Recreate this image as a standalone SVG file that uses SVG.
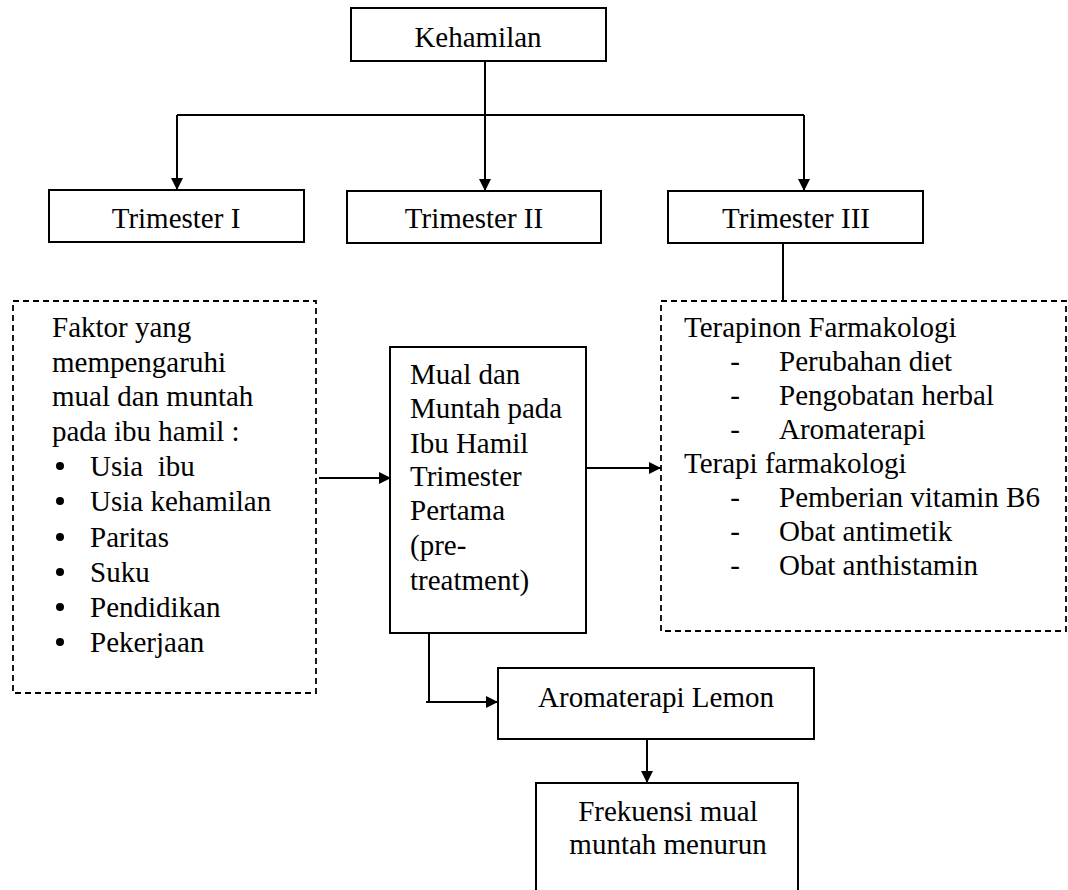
<svg xmlns="http://www.w3.org/2000/svg" width="1068" height="890" viewBox="0 0 1068 890">
<style>
text{font-family:"Liberation Serif","Times New Roman",serif;font-size:29px;fill:#000}
.c{text-anchor:middle}
.box{fill:#fff;stroke:#000;stroke-width:2}
.dash{fill:none;stroke:#000;stroke-width:1.8;stroke-dasharray:6 4}
.ln{fill:none;stroke:#000;stroke-width:2}
.ar{fill:none;stroke:#000;stroke-width:2;marker-end:url(#ah)}
</style>
<defs>
<marker id="ah" viewBox="0 0 12 12" refX="12" refY="6" markerWidth="12" markerHeight="12" markerUnits="userSpaceOnUse" orient="auto">
<path d="M0,0 L12,6 L0,12 Z" fill="#000"/>
</marker>
</defs>
<rect width="1068" height="890" fill="#fff"/>
<g id="connectors">
<path class="ln" d="M485,61 V115"/>
<path class="ln" d="M177,115 H804"/>
<path class="ar" d="M177,115 V190"/>
<path class="ar" d="M485,115 V191"/>
<path class="ar" d="M804,115 V191"/>
<path class="ln" d="M783,243 V301"/>
<path class="ar" d="M319,478 H391"/>
<path class="ar" d="M586,468 H661"/>
<path class="ln" d="M429,633 V702"/>
<path class="ar" d="M426,702 H498"/>
<path class="ar" d="M647,739 V783"/>
</g>
<g id="kehamilan">
<rect class="box" x="351" y="8" width="255" height="53"/>
<text class="c" x="478" y="47">Kehamilan</text>
</g>
<g id="trimester1">
<rect class="box" x="49" y="190" width="255" height="52"/>
<text class="c" x="176" y="228">Trimester I</text>
</g>
<g id="trimester2">
<rect class="box" x="347" y="191" width="254" height="52"/>
<text class="c" x="474" y="228">Trimester II</text>
</g>
<g id="trimester3">
<rect class="box" x="668" y="191" width="255" height="52"/>
<text class="c" x="796" y="228">Trimester III</text>
</g>
<g id="faktor">
<rect class="dash" x="13" y="301" width="303" height="392"/>
<text x="52" y="337">Faktor yang</text>
<text x="52" y="372">mempengaruhi</text>
<text x="52" y="406">mual dan muntah</text>
<text x="52" y="441">pada ibu hamil :</text>
<g>
<circle cx="60" cy="466" r="4"/>
<circle cx="60" cy="501" r="4"/>
<circle cx="60" cy="537" r="4"/>
<circle cx="60" cy="572" r="4"/>
<circle cx="60" cy="607" r="4"/>
<circle cx="60" cy="642" r="4"/>
</g>
<text x="90" y="476" xml:space="preserve">Usia  ibu</text>
<text x="90" y="511">Usia kehamilan</text>
<text x="90" y="547">Paritas</text>
<text x="90" y="582">Suku</text>
<text x="90" y="617">Pendidikan</text>
<text x="90" y="652">Pekerjaan</text>
</g>
<g id="mual">
<rect class="box" x="390" y="347" width="196" height="286"/>
<text x="410" y="384">Mual dan</text>
<text x="410" y="418">Muntah pada</text>
<text x="410" y="453">Ibu Hamil</text>
<text x="410" y="486">Trimester</text>
<text x="410" y="520">Pertama</text>
<text x="410" y="555">(pre-</text>
<text x="410" y="590">treatment)</text>
</g>
<g id="terapi">
<rect class="dash" x="661" y="301" width="405" height="330"/>
<text x="684" y="337">Terapinon Farmakologi</text>
<text x="735" y="371" class="c">-</text><text x="779" y="371">Perubahan diet</text>
<text x="735" y="405" class="c">-</text><text x="779" y="405">Pengobatan herbal</text>
<text x="735" y="439" class="c">-</text><text x="779" y="439">Aromaterapi</text>
<text x="684" y="473">Terapi farmakologi</text>
<text x="735" y="507" class="c">-</text><text x="779" y="507">Pemberian vitamin B6</text>
<text x="735" y="541" class="c">-</text><text x="779" y="541">Obat antimetik</text>
<text x="735" y="575" class="c">-</text><text x="779" y="575">Obat anthistamin</text>
</g>
<g id="lemon">
<rect class="box" x="498" y="668" width="316" height="71"/>
<text class="c" x="656" y="707">Aromaterapi Lemon</text>
</g>
<g id="frekuensi">
<rect class="box" x="536" y="783" width="262" height="120"/>
<text class="c" x="668" y="821">Frekuensi mual</text>
<text class="c" x="668" y="854">muntah menurun</text>
</g>
</svg>
